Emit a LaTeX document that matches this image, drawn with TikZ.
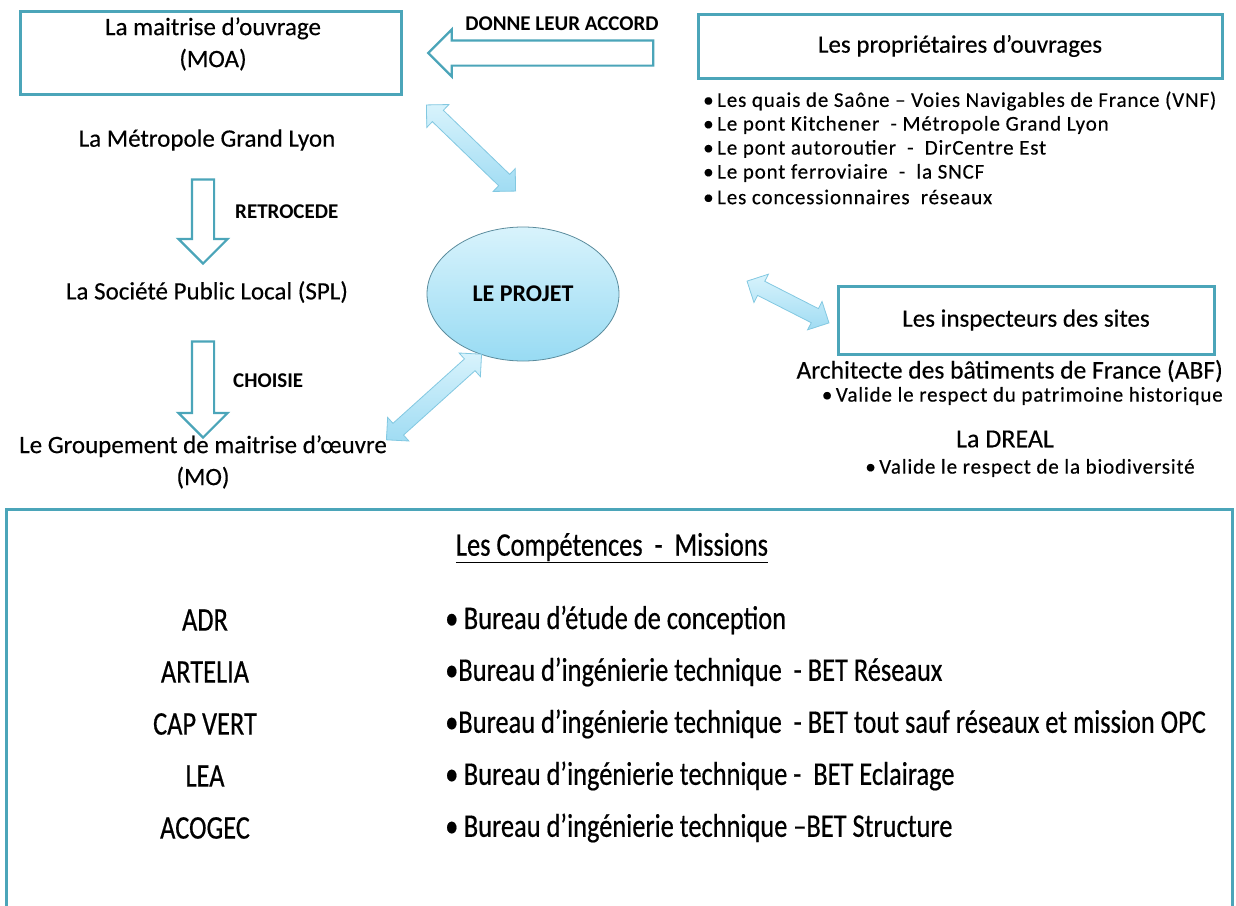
\documentclass[tikz,border=0pt]{standalone}
\usepackage{fontspec}
\setmainfont{Carlito}[UprightFeatures={FakeBold=0.35}]
\newfontfamily\narrowfont[FakeStretch=0.8,FakeBold=0.5]{Carlito}
\usetikzlibrary{shapes,shapes.geometric,shapes.arrows,calc,positioning}

\definecolor{boxteal}{RGB}{75,165,185}
\definecolor{arrowsky}{RGB}{160,220,243}
\definecolor{arrowedge}{RGB}{130,200,225}
\definecolor{blobtop}{RGB}{216,243,252}
\definecolor{blobbot}{RGB}{152,219,243}

\begin{document}
\begin{tikzpicture}
   [x=1pt,y=-1pt,
   every node/.style={inner sep=0pt,align=center,font=\fontsize{25}{32}\selectfont},
   frame/.style={draw=boxteal,line width=3pt},
   hollow/.style={single arrow,draw=boxteal,line width=2.2pt,fill=white,
      single arrow head extend=#1,single arrow head indent=0pt},
   link/.style={double arrow,draw=arrowedge,line width=0.8pt,
      top color=blobtop,bottom color=arrowsky,inner sep=7.5pt,
      double arrow head extend=8pt,double arrow head indent=0pt},
   verb/.style={font=\bfseries\fontsize{21}{24}\selectfont},
   item/.style={anchor=west,font=\addfontfeatures{LetterSpace=4}\fontsize{21}{24}\selectfont},
   row/.style={font=\narrowfont\fontsize{33}{36}\selectfont}]
   \useasboundingbox (0,0) rectangle (1236,905);

   % top boxes
   \node[frame,minimum width=381pt,minimum height=83pt] (moa) at (211,53) {};
   \node (moatxt) at (213,44) {La maitrise d’ouvrage\\(MOA)};
   \node[frame,minimum width=524pt,minimum height=64pt] (owners) at (960,46) {Les propriétaires d’ouvrages};
   \node[hollow=11pt,inner sep=11.5pt,shape border rotate=180,minimum height=225pt] (agree) at (547,53) {};
   \node[verb] (agreelbl) at (562,24) {DONNE LEUR ACCORD};

   % left column
   \node (metro) at (207,140) {La Métropole Grand Lyon};
   \node[hollow=13.5pt,inner sep=10pt,shape border rotate=270,minimum height=84pt] (down1) at (203,216) {};
   \node[verb,anchor=west] (retro) at (235,212) {RETROCEDE};
   \node (spl) at (207,292) {La Société Public Local (SPL)};
   \node[hollow=13.5pt,inner sep=10pt,shape border rotate=270,minimum height=96pt] (down2) at (203,384) {};
   \node[verb,anchor=west] (chose) at (233,381) {CHOISIE};
   \node (moe) at (203,462) {Le Groupement de maitrise d’œuvre\\(MO)};

   % project
   \node[ellipse,draw=arrowedge!70!black,line width=0.8pt,top color=blobtop,bottom color=blobbot,
      minimum width=192pt,minimum height=134pt,font=\bfseries\fontsize{24}{28}\selectfont] (proj) at (523,294) {LE PROJET};
   \node[link,rotate=-44,minimum height=124pt] (link1) at (471,148) {};
   \node[link,rotate=-27,minimum height=92pt] (link2) at (788,302) {};
   \node[link,rotate=42,minimum height=128pt] (link3) at (434,397) {};

   % owners list
   \foreach \txt [count=\i] in {Les quais de Saône – Voies Navigables de France (VNF),
      Le pont Kitchener \ - Métropole Grand Lyon, Le pont autoroutier \ - \ DirCentre Est,
      Le pont ferroviaire \ - \ la SNCF, Les concessionnaires \ réseaux}
      \node[item] (own\i) at (703,{77+24*\i}) {•\,\txt};

   % inspectors
   \node[frame,minimum width=376pt,minimum height=68pt] (insp) at (1026,320) {Les inspecteurs des sites};
   \node[font=\fontsize{25.5}{30}\selectfont,anchor=east] (abf) at (1223,371) {Architecte des bâtiments de France (ABF)};
   \node[item,anchor=east] (abfjob) at (1223,396) {•\,Valide le respect du patrimoine historique};
   \node[font=\fontsize{26}{30}\selectfont] (dreal) at (1005,439) {La DREAL};
   \node[item,anchor=center] (drealjob) at (1030,468) {•\,Valide le respect de la biodiversité};

   % skills
   \node[frame,minimum width=1226pt,minimum height=420pt,anchor=north west] (skills) at (5,508) {};
   \node[row] (skillhead) at (612,548) {\underline{Les Compétences \ - \ Missions}};
   \foreach \who/\what [count=\i] in {ADR/{•\,Bureau d’étude de conception},
      ARTELIA/{•Bureau d’ingénierie technique \ - BET Réseaux},
      CAP VERT/{•Bureau d’ingénierie technique \ - BET tout sauf réseaux et mission OPC},
      LEA/{•\,Bureau d’ingénierie technique - \ BET Eclairage},
      ACOGEC/{•\,Bureau d’ingénierie technique –BET Structure}}
   {
      \node[row] (firm\i) at (205,{568+52*\i}) {\who};
      \node[row,anchor=west] (task\i) at (445,{568+52*\i}) {\what};
   }
\end{tikzpicture}
\end{document}
